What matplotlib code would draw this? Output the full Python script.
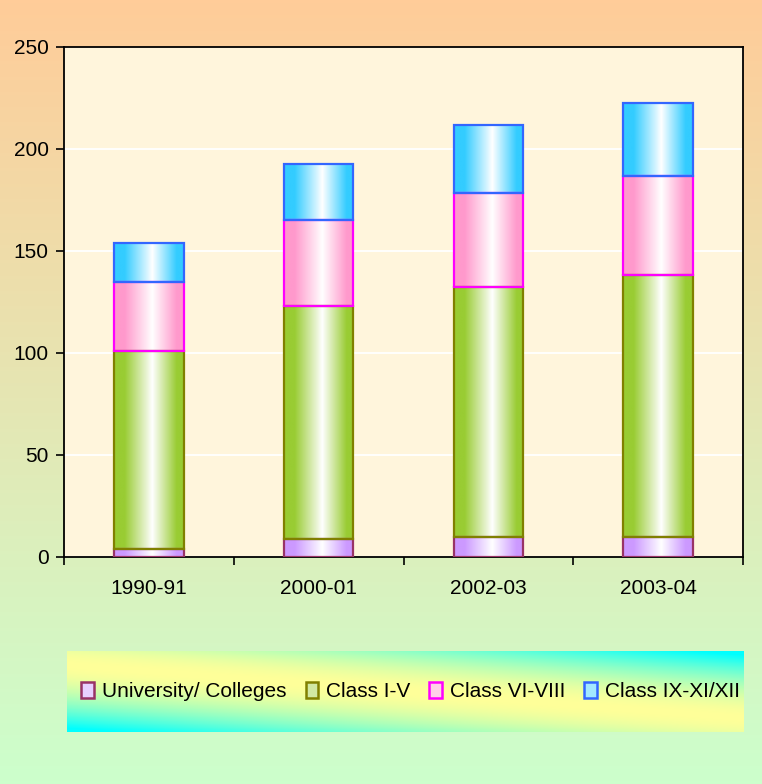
import matplotlib
matplotlib.use("Agg")
import matplotlib.pyplot as plt
import numpy as np
from matplotlib.colors import LinearSegmentedColormap, to_rgb
from matplotlib.patches import Patch

plt.rcParams["font.family"] = ["Liberation Sans", "DejaVu Sans"]

years = ["1990-91", "2000-01", "2002-03", "2003-04"]
series = ["University/ Colleges", "Class I-V", "Class VI-VIII", "Class IX-XI/XII"]
university = [4, 9, 10, 10]
class_1_5 = [97, 114, 122.5, 128]
class_6_8 = [34, 42, 46, 49]
class_9_12 = [19, 27.5, 33.5, 35.5]

fills = ["#CC99FF", "#99CC33", "#FF99CC", "#33CCFF"]
edges = ["#993366", "#808000", "#FF00FF", "#3366FF"]

W, H = 762, 784
fig = plt.figure(figsize=(W / 100, H / 100), dpi=100)

# figure background: peach at top fading to pale green at bottom
bg = fig.add_axes([0, 0, 1, 1], zorder=-10)
top, bot = np.array(to_rgb("#FFCC99")), np.array(to_rgb("#CCFFCC"))
t = np.linspace(0, 1, 256)[:, None]
bg.imshow((top * (1 - t) + bot * t)[:, None, :].repeat(2, axis=1), aspect="auto",
          extent=[0, 1, 0, 1])
bg.axis("off")

# legend box background: yellow with cyan in two corners
lx0, ly0, lx1, ly1 = 67, 651, 744, 732
lg = fig.add_axes([lx0 / W, 1 - ly1 / H, (lx1 - lx0) / W, (ly1 - ly0) / H], zorder=-5)
xx, yy = np.meshgrid(np.linspace(0, 1, 300), np.linspace(1, 0, 60))
d = np.clip(np.abs(xx * 0.8 + yy * 1.2 - 1.0) / 0.95, 0, 1) ** 1.8
yel, cya = np.array(to_rgb("#FFFF99")), np.array(to_rgb("#00FFFF"))
lg.imshow(yel * (1 - d[..., None]) + cya * d[..., None], aspect="auto", extent=[0, 1, 0, 1])
lg.axis("off")

ax = fig.add_axes([64 / W, 1 - 557 / H, 679 / W, 510 / H])
ax.set_facecolor("#FFF5DC")
x = np.arange(len(years))
bottoms = np.zeros(len(years))
values = [university, class_1_5, class_6_8, class_9_12]
handles = []
for vals, fc, ec, name in zip(values, fills, edges, series):
    bars = ax.bar(x, vals, width=0.41, bottom=bottoms, facecolor="none",
                  edgecolor=ec, linewidth=1.6, zorder=3)
    cmap = LinearSegmentedColormap.from_list(
        name, [(0, fc), (0.15, fc), (0.55, "white"), (0.9, fc), (1, fc)])
    grad = np.linspace(0, 1, 128)[None, :]
    for b in bars:
        bx, by = b.get_x(), b.get_y()
        im = ax.imshow(grad, cmap=cmap, aspect="auto", zorder=2,
                       extent=[bx, bx + b.get_width(), by, by + b.get_height()])
        im.set_clip_path(b)
    bottoms = bottoms + np.array(vals)
    light = tuple(0.45 * np.array(to_rgb(fc)) + 0.55)
    handles.append(Patch(facecolor=light, edgecolor=ec, linewidth=1.8, label=name))

ax.set_xlim(-0.5, len(years) - 0.5)
ax.set_ylim(0, 250)
ax.set_yticks(range(0, 251, 50))
ax.yaxis.grid(True, color="white", linewidth=1.3, zorder=0)
ax.set_axisbelow(True)
ax.set_xticks(np.arange(-0.5, len(years)), labels=[""] * (len(years) + 1))
ax.set_xticks(x, labels=years, minor=True)
ax.tick_params(axis="x", which="minor", length=0, pad=16, labelsize=15)
ax.tick_params(axis="x", which="major", length=6, width=1.2, direction="out")
ax.tick_params(axis="y", length=6, width=1.2, direction="out", labelsize=15, pad=5)
for sp in ax.spines.values():
    sp.set_linewidth(1.3)
    sp.set_color("black")

leg = fig.legend(handles=handles, loc="center", ncol=4,
                 bbox_to_anchor=((lx0 + lx1) / 2 / W + 0.007, 1 - (ly0 + ly1) / 2 / H),
                 frameon=False, fontsize=15, handlelength=0.6, handleheight=0.8,
                 handletextpad=0.4, columnspacing=0.9)

fig.savefig("out.png", dpi=100)
